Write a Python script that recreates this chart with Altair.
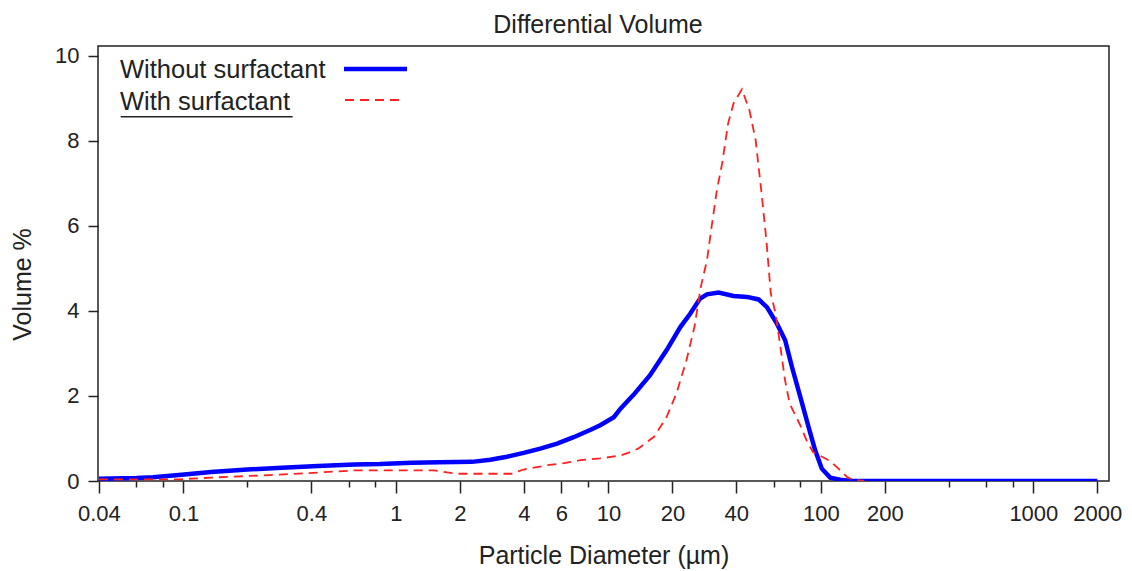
import altair as alt
import pandas as pd

# ---- data ----
blue_x = [0.04, 0.06, 0.072, 0.095, 0.135, 0.2, 0.29, 0.43, 0.64, 0.84, 1.19, 1.6, 2.28, 2.78,
          3.33, 3.99, 4.78, 5.73, 6.86, 8.2, 9.15, 10.6, 11.4, 12.7, 13.1, 15.7, 18.8, 21.8,
          24.3, 27.0, 29.1, 33.0, 38.8, 44.9, 50.9, 55.7, 62.1, 67.9, 73.1, 80, 87.5, 94,
          101, 110.6, 123, 140, 2000]
blue_y = [0.05, 0.07, 0.09, 0.14, 0.21, 0.27, 0.31, 0.35, 0.39, 0.40, 0.43, 0.44, 0.45, 0.50,
          0.57, 0.66, 0.76, 0.88, 1.03, 1.20, 1.31, 1.50, 1.70, 1.95, 2.02, 2.49, 3.08, 3.62,
          3.94, 4.29, 4.39, 4.43, 4.35, 4.33, 4.27, 4.09, 3.70, 3.31, 2.68, 1.98, 1.27, 0.72,
          0.29, 0.08, 0.03, 0.0, 0.0]

red_x = [0.04, 0.095, 0.135, 0.23, 0.37, 0.64, 0.84, 1.51, 1.87, 2.0, 3.48, 3.99, 5.14, 6.18,
         7.39, 9.15, 11.4, 12.7, 13.8, 16.4, 18.8, 20.9, 23.3, 25.4, 27.2, 29.1, 30.6, 32.4,
         34.3, 36.6, 38.8, 42.5, 46.1, 49.3, 52.6, 55.4, 58.1, 61.2, 64.5, 67.8, 71.3, 80,
         85.5, 91.8, 98.8, 110.6, 121, 133, 142, 160]
red_y = [0.04, 0.04, 0.08, 0.13, 0.18, 0.25, 0.25, 0.25, 0.18, 0.17, 0.17, 0.27, 0.37, 0.42,
         0.49, 0.53, 0.60, 0.68, 0.76, 1.04, 1.51, 2.06, 2.84, 3.62, 4.56, 5.19, 5.98, 6.84,
         7.47, 8.41, 8.88, 9.21, 8.72, 8.02, 6.76, 5.66, 4.41, 3.94, 3.15, 2.37, 1.82, 1.31,
         0.96, 0.68, 0.60, 0.47, 0.29, 0.09, 0.03, 0.0]

major_ticks = [0.04, 0.1, 0.4, 1, 2, 4, 6, 10, 20, 40, 100, 200, 1000, 2000]
minor_ticks = [0.06, 0.08, 0.2, 0.6, 0.8, 8, 60, 80, 400, 600, 800]
y_ticks = [0, 2, 4, 6, 8, 10]
legend_labels = ["Without surfactant", "With surfactant"]
chart_title = "Differential Volume"

FONT = "Liberation Sans"
TXT = "#222222"

blue_df = pd.DataFrame({"d": blue_x, "v": blue_y})
red_df = pd.DataFrame({"d": red_x, "v": red_y})

major_list = ",".join(str(v) for v in major_ticks)

x_enc = alt.X(
    "d:Q",
    scale=alt.Scale(type="log", domain=[0.0396, 2270], nice=False),
    axis=alt.Axis(
        values=sorted(major_ticks + minor_ticks),
        labelExpr=f"indexof([{major_list}], datum.value) >= 0 ? format(datum.value, '~g') : ''",
        tickSize={"condition": {"test": f"indexof([{major_list}], datum.value) >= 0", "value": 12}, "value": 6},
        labelPadding=10,
        labelFontSize=22,
        labelOverlap=False,
        labelFlush=False,
        labelBound=False,
        title="Particle Diameter (µm)",
        titleFontSize=25,
        titleY=82,
        titleBaseline="alphabetic",
    ),
)
y_enc = alt.Y(
    "v:Q",
    scale=alt.Scale(domain=[0, 10.23], nice=False, zero=True),
    axis=alt.Axis(
        values=y_ticks,
        tickSize=10,
        labelPadding=9,
        labelFontSize=22,
        labelFlush=False,
        title="Volume %",
        titleFontSize=25,
        titleX=-76,
        titleY=238,
        titleAngle=-90,
        titleAlign="center",
        titleBaseline="middle",
    ),
)

blue = alt.Chart(blue_df).mark_line(color="#0000ff", strokeWidth=4.5, clip=True).encode(x=x_enc, y=y_enc)
red = alt.Chart(red_df).mark_line(color="#ff2020", strokeWidth=1.8, strokeDash=[9, 6], clip=True).encode(x=x_enc, y=y_enc)

title_df = pd.DataFrame({"t": [chart_title]})
title_mark = alt.Chart(title_df).mark_text(align="center", baseline="alphabetic", font=FONT, fontSize=25, color=TXT).encode(
    text="t:N", x=alt.value(500), y=alt.value(-13))

leg_df1 = pd.DataFrame({"t": [legend_labels[0]]})
leg_df2 = pd.DataFrame({"t": [legend_labels[1]]})
leg_text1 = alt.Chart(leg_df1).mark_text(align="left", baseline="alphabetic", font=FONT, fontSize=25.5, color=TXT).encode(
    text="t:N", x=alt.value(22), y=alt.value(32))
leg_text2 = alt.Chart(leg_df2).mark_text(align="left", baseline="alphabetic", font=FONT, fontSize=25.5, color=TXT).encode(
    text="t:N", x=alt.value(22), y=alt.value(64))
underline = alt.Chart(leg_df2).mark_rule(color=TXT, strokeWidth=1.5).encode(
    x=alt.value(22.7), x2=alt.value(194.7), y=alt.value(70.7))
leg_blue = alt.Chart(leg_df1).mark_rule(color="#0000ff", strokeWidth=4.5).encode(
    x=alt.value(246), x2=alt.value(309), y=alt.value(23))
leg_red = alt.Chart(leg_df2).mark_rule(color="#ff2020", strokeWidth=1.8, strokeDash=[9, 6]).encode(
    x=alt.value(247), x2=alt.value(302), y=alt.value(54))

chart = alt.layer(blue, red, title_mark, leg_text1, leg_text2, underline, leg_blue, leg_red).properties(
    width=1011,
    height=435,
    autosize=alt.AutoSizeParams(type="none"),
    padding={"left": 90, "top": 38, "right": 15, "bottom": 90},
).configure_view(stroke="#222222", strokeWidth=1.5).configure_axis(
    domain=False, grid=False, labelFont=FONT, titleFont=FONT, labelColor=TXT, titleColor=TXT,
    tickColor="#222222", tickWidth=1.5, titleFontWeight="normal",
)

chart.save("out.html", embed_options={"renderer": "svg", "actions": False})
